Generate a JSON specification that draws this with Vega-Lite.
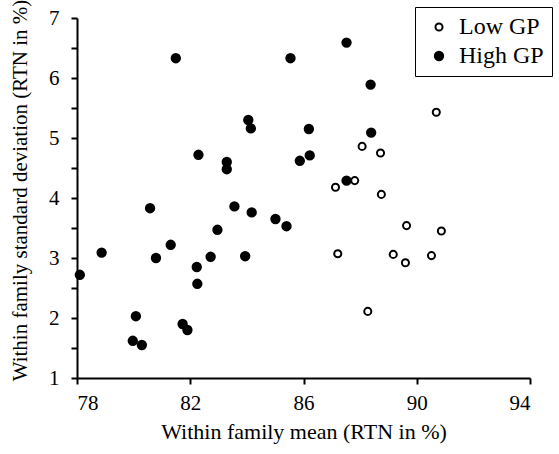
{
  "$schema": "https://vega.github.io/schema/vega-lite/v6.json",
  "autosize": "none",
  "width": 453,
  "height": 360,
  "padding": {"left": 77, "top": 18, "right": 29, "bottom": 76},
  "background": "white",
  "config": {
    "view": {"stroke": null},
    "font": "Liberation Serif",
    "axis": {"grid": false, "domainColor": "black", "domainWidth": 2, "tickColor": "black", "tickWidth": 2, "labelColor": "black", "titleColor": "black", "labelFont": "Liberation Serif", "titleFont": "Liberation Serif", "titleFontWeight": "normal", "labelFontSize": 21, "titleFontSize": 21},
    "legend": {"labelFont": "Liberation Serif"}
  },
  "data": {
    "values": [
      {"group": "High GP", "mean": 81.49, "sd": 6.33},
      {"group": "High GP", "mean": 85.54, "sd": 6.33},
      {"group": "High GP", "mean": 87.52, "sd": 6.59},
      {"group": "High GP", "mean": 88.37, "sd": 5.89},
      {"group": "High GP", "mean": 84.05, "sd": 5.30},
      {"group": "High GP", "mean": 84.14, "sd": 5.16},
      {"group": "High GP", "mean": 86.19, "sd": 5.15},
      {"group": "High GP", "mean": 88.39, "sd": 5.09},
      {"group": "High GP", "mean": 82.29, "sd": 4.72},
      {"group": "High GP", "mean": 83.29, "sd": 4.60},
      {"group": "High GP", "mean": 83.29, "sd": 4.48},
      {"group": "High GP", "mean": 85.87, "sd": 4.62},
      {"group": "High GP", "mean": 86.22, "sd": 4.71},
      {"group": "High GP", "mean": 87.52, "sd": 4.29},
      {"group": "High GP", "mean": 80.58, "sd": 3.83},
      {"group": "High GP", "mean": 83.56, "sd": 3.86},
      {"group": "High GP", "mean": 84.17, "sd": 3.76},
      {"group": "High GP", "mean": 85.01, "sd": 3.65},
      {"group": "High GP", "mean": 85.40, "sd": 3.53},
      {"group": "High GP", "mean": 82.96, "sd": 3.47},
      {"group": "High GP", "mean": 78.10, "sd": 2.72},
      {"group": "High GP", "mean": 78.87, "sd": 3.09},
      {"group": "High GP", "mean": 80.79, "sd": 3.00},
      {"group": "High GP", "mean": 81.31, "sd": 3.22},
      {"group": "High GP", "mean": 82.23, "sd": 2.85},
      {"group": "High GP", "mean": 82.25, "sd": 2.57},
      {"group": "High GP", "mean": 82.72, "sd": 3.02},
      {"group": "High GP", "mean": 83.94, "sd": 3.03},
      {"group": "High GP", "mean": 80.08, "sd": 2.03},
      {"group": "High GP", "mean": 79.97, "sd": 1.62},
      {"group": "High GP", "mean": 80.29, "sd": 1.55},
      {"group": "High GP", "mean": 81.73, "sd": 1.90},
      {"group": "High GP", "mean": 81.90, "sd": 1.80},
      {"group": "Low GP", "mean": 90.69, "sd": 5.43},
      {"group": "Low GP", "mean": 88.07, "sd": 4.86},
      {"group": "Low GP", "mean": 88.72, "sd": 4.75},
      {"group": "Low GP", "mean": 87.13, "sd": 4.18},
      {"group": "Low GP", "mean": 87.81, "sd": 4.29},
      {"group": "Low GP", "mean": 88.75, "sd": 4.06},
      {"group": "Low GP", "mean": 89.64, "sd": 3.54},
      {"group": "Low GP", "mean": 90.87, "sd": 3.45},
      {"group": "Low GP", "mean": 87.21, "sd": 3.07},
      {"group": "Low GP", "mean": 89.17, "sd": 3.06},
      {"group": "Low GP", "mean": 89.60, "sd": 2.92},
      {"group": "Low GP", "mean": 90.52, "sd": 3.04},
      {"group": "Low GP", "mean": 88.27, "sd": 2.11}
    ]
  },
  "mark": {"type": "point", "filled": false, "stroke": "black", "strokeWidth": 2, "opacity": 1},
  "encoding": {
    "x": {"field": "mean", "type": "quantitative", "scale": {"domain": [78, 94], "nice": false, "zero": false},
      "axis": {"values": [78, 82, 86, 90, 94], "format": "d", "title": "Within family mean (RTN in %)", "titleFontSize": 22, "tickSize": 6, "labelPadding": 8, "titlePadding": 8}},
    "y": {"field": "sd", "type": "quantitative", "scale": {"domain": [1, 7], "nice": false, "zero": false},
      "axis": {"values": [1, 1.5, 2, 2.5, 3, 3.5, 4, 4.5, 5, 5.5, 6, 6.5, 7], "labelExpr": "datum.value % 1 == 0 ? format(datum.value, 'd') : ''", "title": "Within family standard deviation (RTN in %)", "titleY": 172, "tickSize": 6, "labelPadding": 12, "titlePadding": 18}},
    "fill": {"field": "group", "type": "nominal", "scale": {"domain": ["Low GP", "High GP"], "range": ["white", "black"]},
      "legend": {"title": null, "orient": "none", "legendX": 338, "legendY": -11, "strokeColor": "black", "padding": 8, "labelFontSize": 24, "labelFont": "Liberation Serif", "labelColor": "black", "rowPadding": 5, "symbolOffset": 4, "labelOffset": 8, "symbolStrokeColor": "black", "symbolStrokeWidth": 2, "fillColor": "white",
        "encode": {"legend": {"update": {"strokeWidth": {"value": 2}}}}}},
    "size": {"field": "group", "type": "nominal", "scale": {"domain": ["Low GP", "High GP"], "range": [50, 70]}}
  }
}
